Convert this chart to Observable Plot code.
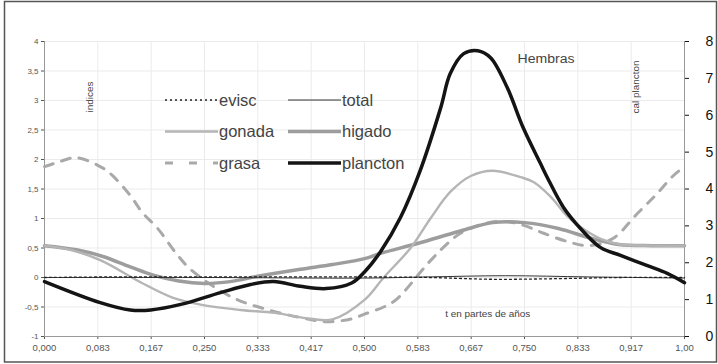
<!DOCTYPE html>
<html>
<head>
<meta charset="utf-8">
<script src="https://cdn.jsdelivr.net/npm/d3@7"></script>
<script src="https://cdn.jsdelivr.net/npm/@observablehq/plot@0.6"></script>
<style>
  body { margin: 0; background: #fff; }
  #chart { width: 718px; height: 364px; }
</style>
</head>
<body>
<div id="chart"></div>
<script>
// Time axis: fraction of the year, ticks every month
const xTicks = [0, 1/12, 2/12, 3/12, 4/12, 5/12, 6/12, 7/12, 8/12, 9/12, 10/12, 11/12, 1];
const xTickLabels = ["0,000", "0,083", "0,167", "0,250", "0,333", "0,417", "0,500",
                     "0,583", "0,667", "0,750", "0,833", "0,917", "1,00"];
// Left axis: indices
const yLeftTicks = [-1, -0.5, 0, 0.5, 1, 1.5, 2, 2.5, 3, 3.5, 4];
const yLeftLabels = ["-1", "-0,5", "0", "0,5", "1", "1,5", "2", "2,5", "3", "3,5", "4"];
// Right axis: cal plancton
const yRightTicks = [0, 1, 2, 3, 4, 5, 6, 7, 8];

// Series (t in fractions of a year)
const eviscT = [0, 0.1, 0.2, 0.3, 0.4, 0.5, 0.6, 0.7, 0.8, 0.9, 1];
const eviscV = [0, 0.01, 0.01, 0.01, 0.01, 0.01, 0.0, -0.03, -0.02, 0.0, 0.0];

const totalT = [0, 0.25, 0.5, 0.6, 0.72, 0.85, 1];
const totalV = [0, 0, -0.01, 0.01, 0.03, 0.01, -0.01];

const gonadaT = [0, 0.04, 0.088, 0.15, 0.2, 0.244, 0.306, 0.36, 0.416, 0.45, 0.5, 0.53,
                 0.572, 0.603, 0.634, 0.666, 0.70, 0.744, 0.764, 0.79, 0.816, 0.838,
                 0.87, 0.9, 0.95, 1];
const gonadaV = [0.54, 0.47, 0.29, -0.08, -0.34, -0.46, -0.55, -0.6, -0.7, -0.71, -0.38, 0.0,
                 0.5, 1.0, 1.45, 1.72, 1.81, 1.70, 1.62, 1.38, 1.05, 0.85,
                 0.65, 0.56, 0.54, 0.54];

const higadoT = [0, 0.05, 0.09, 0.134, 0.17, 0.21, 0.25, 0.29, 0.3375, 0.4, 0.45, 0.5, 0.525,
                 0.584, 0.647, 0.7, 0.75, 0.803, 0.855, 0.897, 0.95, 1];
const higadoV = [0.54, 0.47, 0.36, 0.18, 0.04, -0.06, -0.1, -0.07, 0.03, 0.14, 0.22, 0.32, 0.41,
                 0.58, 0.78, 0.93, 0.93, 0.83, 0.66, 0.56, 0.54, 0.54];

const grasaT = [0, 0.02, 0.05, 0.092, 0.106, 0.134, 0.153, 0.177, 0.205, 0.23, 0.294, 0.35,
                0.4, 0.44, 0.48, 0.5, 0.53, 0.55, 0.6, 0.627, 0.65, 0.69, 0.72, 0.75,
                0.78, 0.82, 0.85, 0.888, 0.926, 0.957, 0.982, 1];
const grasaV = [1.88, 1.95, 2.03, 1.85, 1.73, 1.39, 1.1, 0.83, 0.42, 0.12, -0.34, -0.55,
                -0.68, -0.75, -0.7, -0.62, -0.5, -0.37, 0.25, 0.55, 0.75, 0.92, 0.95, 0.88,
                0.75, 0.6, 0.54, 0.66, 1.08, 1.42, 1.72, 1.88];

// plancton is read on the right axis (0–8)
const planctonT = [0, 0.087, 0.134, 0.166, 0.213, 0.275, 0.322, 0.358, 0.4, 0.44, 0.48, 0.5,
                   0.525, 0.556, 0.587, 0.619, 0.634, 0.655, 0.677, 0.697, 0.723, 0.748,
                   0.775, 0.786, 0.811, 0.8375, 0.869, 0.9, 0.942, 0.973, 1];
const planctonV = [1.49, 0.92, 0.72, 0.72, 0.87, 1.19, 1.41, 1.49, 1.36, 1.3, 1.45, 1.75,
                   2.3, 3.22, 4.5, 6.2, 7.13, 7.67, 7.75, 7.56, 6.75, 5.66,
                   4.69, 4.3, 3.5, 2.93, 2.41, 2.2, 1.92, 1.71, 1.46];

// right axis value -> left axis position
const toLeft = r => -1 + r * 5 / 8;
const fromLeft = v => (v + 1) * 8 / 5;

const styles = {
  grasa:    {stroke: "#a9a9a9", strokeWidth: 3, strokeDasharray: "9,9"},
  higado:   {stroke: "#9d9d9d", strokeWidth: 3.5},
  gonada:   {stroke: "#b5b5b5", strokeWidth: 2.4},
  total:    {stroke: "#333", strokeWidth: 1},
  evisc:    {stroke: "#222", strokeWidth: 1.3, strokeDasharray: "2,3"},
  plancton: {stroke: "#141414", strokeWidth: 3.5}
};

const rows = (T, V, f = v => v) => T.map((t, i) => ({t, v: f(V[i])}));
const series = {
  grasa: rows(grasaT, grasaV),
  higado: rows(higadoT, higadoV),
  gonada: rows(gonadaT, gonadaV),
  total: rows(totalT, totalV),
  evisc: rows(eviscT, eviscV),
  plancton: rows(planctonT, planctonV, toLeft)
};

const chart = Plot.plot({
  width: 718,
  height: 364,
  marginLeft: 44,
  marginRight: 34,
  marginTop: 41,
  marginBottom: 28,
  style: {fontFamily: "'Liberation Sans', Arial, sans-serif", background: "#fff"},
  x: {domain: [0, 1]},
  y: {domain: [-1, 4]},
  marks: [
    Plot.gridX(xTicks, {stroke: "#ebebeb", strokeOpacity: 1}),
    Plot.gridY(yLeftTicks, {stroke: "#ebebeb", strokeOpacity: 1}),
    Plot.axisX(xTicks, {
      tickFormat: d => xTickLabels[xTicks.indexOf(d)],
      tickSize: 3, tickPadding: 5, fontSize: 9.5, color: "#555", label: null
    }),
    Plot.axisY(yLeftTicks, {
      tickFormat: d => yLeftLabels[yLeftTicks.indexOf(d)],
      tickSize: 3, tickPadding: 3, fontSize: 8, color: "#555", label: null
    }),
    Plot.axisY(yRightTicks.map(toLeft), {
      anchor: "right", tickSize: 4, tickPadding: 17, fontSize: 14, color: "#111",
      tickFormat: v => String(Math.round(fromLeft(v))), label: null
    }),
    Plot.ruleX([0], {stroke: "#999"}),
    Plot.ruleX([1], {stroke: "#999"}),
    Plot.ruleY([-1], {stroke: "#999"}),
    ...Object.keys(series).map(k =>
      Plot.line(series[k], {x: "t", y: "v", curve: "catmull-rom", ...styles[k]})
    )
  ]
});

const svg = d3.select(chart);
const sx = chart.scale("x"), sy = chart.scale("y");

// Annotations
const ann = svg.append("g")
  .attr("font-family", "'Liberation Sans', Arial, sans-serif")
  .attr("fill", "#444").attr("text-anchor", "start");
ann.append("text").attr("x", sx.apply(0.74)).attr("y", sy.apply(3.62))
  .attr("font-size", 12).attr("textLength", 57).attr("lengthAdjust", "spacingAndGlyphs")
  .text("Hembras");
ann.append("text").attr("x", sx.apply(0.627)).attr("y", sy.apply(-0.68))
  .attr("font-size", 9).attr("textLength", 85).attr("lengthAdjust", "spacingAndGlyphs")
  .text("t en partes de años");
ann.append("text")
  .attr("transform", `translate(${sx.apply(0.077)},${sy.apply(3.05)}) rotate(-90)`)
  .attr("text-anchor", "middle").attr("font-size", 8.5)
  .attr("textLength", 31).attr("lengthAdjust", "spacingAndGlyphs")
  .text("indices");
ann.append("text")
  .attr("transform", `translate(${sx.apply(0.929)},${sy.apply(3.22)}) rotate(-90)`)
  .attr("text-anchor", "middle").attr("font-size", 8.5)
  .attr("textLength", 53).attr("lengthAdjust", "spacingAndGlyphs")
  .text("cal plancton");

// Legend: three rows, two columns
const legendItems = [
  {key: "evisc", col: 0, row: 0}, {key: "total", col: 1, row: 0},
  {key: "gonada", col: 0, row: 1}, {key: "higado", col: 1, row: 1},
  {key: "grasa", col: 0, row: 2}, {key: "plancton", col: 1, row: 2}
];
const lg = svg.append("g")
  .attr("font-family", "'Liberation Sans', Arial, sans-serif")
  .attr("text-anchor", "start");
legendItems.forEach(({key, col, row}) => {
  const x0 = col === 0 ? 165 : 288;
  const y0 = 100 + row * 31.5;
  const s = styles[key];
  const ln = lg.append("line").attr("x1", x0).attr("x2", x0 + 53).attr("y1", y0).attr("y2", y0)
    .attr("stroke", s.stroke).attr("stroke-width", s.strokeWidth);
  if (s.strokeDasharray) {
    ln.attr("stroke-dasharray", key === "grasa" ? "8,16" : s.strokeDasharray);
  }
  lg.append("text").attr("x", x0 + 54).attr("y", y0).attr("dy", "0.36em")
    .attr("font-size", 16.5).attr("fill", "#444").text(key);
});

// Outer frame
svg.append("rect").attr("x", 4.5).attr("y", 1.5).attr("width", 712).attr("height", 360.5)
  .attr("fill", "none").attr("stroke", "#555").attr("stroke-width", 1.5);

document.getElementById("chart").appendChild(chart);
</script>
</body>
</html>
